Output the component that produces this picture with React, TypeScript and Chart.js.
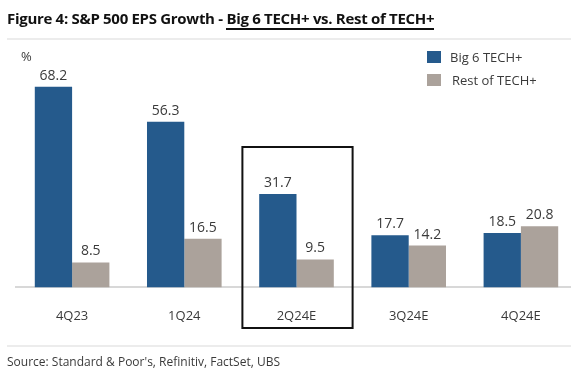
import React, { useEffect, useRef } from "react";
import { Chart, registerables } from "chart.js";

Chart.register(...registerables);

const categories = ["4Q23", "1Q24", "2Q24E", "3Q24E", "4Q24E"];
const big6Values = [68.2, 56.3, 31.7, 17.7, 18.5];
const restValues = [8.5, 16.5, 9.5, 14.2, 20.8];
const seriesNames = ["Big 6 TECH+", "Rest of TECH+"];
const seriesColors = ["#255a8c", "#aba29b"];
const highlightedCategory = "2Q24E";
const titleText = "Figure 4: S&P 500 EPS Growth - ";
const titleUnderlined = "Big 6 TECH+ vs. Rest of TECH+";
const unitLabel = "%";
const sourceText = "Source: Standard & Poor's, Refinitiv, FactSet, UBS";

const FONT = "'Open Sans', 'Noto Sans', sans-serif";
const TEXT = "#3a3a3a";

const valueLabels = {
  id: "valueLabels",
  afterDatasetsDraw(chart: any) {
    const ctx = chart.ctx;
    ctx.save();
    ctx.font = `14px ${FONT}`;
    ctx.fillStyle = TEXT;
    ctx.textAlign = "center";
    ctx.textBaseline = "bottom";
    chart.data.datasets.forEach((ds: any, i: number) => {
      const meta = chart.getDatasetMeta(i);
      meta.data.forEach((bar: any, j: number) => {
        ctx.fillText(ds.data[j].toFixed(1), bar.x, bar.y - 4);
      });
    });
    ctx.restore();
  },
};

const highlightBox = {
  id: "highlightBox",
  afterDraw(chart: any) {
    const x = chart.scales.x;
    const idx = categories.indexOf(highlightedCategory);
    const cx = x.getPixelForValue(idx);
    const half = (x.getPixelForValue(1) - x.getPixelForValue(0)) / 2;
    const ctx = chart.ctx;
    ctx.save();
    ctx.strokeStyle = "#111";
    ctx.lineWidth = 2;
    ctx.strokeRect(cx - half + 2, 147, 2 * half - 2, 181);
    ctx.restore();
  },
};

export default function App() {
  const ref = useRef<HTMLCanvasElement | null>(null);
  useEffect(() => {
    if (!ref.current) return;
    const chart = new Chart(ref.current, {
      type: "bar",
      data: {
        labels: categories,
        datasets: [
          {
            label: seriesNames[0],
            data: big6Values,
            backgroundColor: seriesColors[0],
            categoryPercentage: 0.665,
            barPercentage: 1.0,
          },
          {
            label: seriesNames[1],
            data: restValues,
            backgroundColor: seriesColors[1],
            categoryPercentage: 0.665,
            barPercentage: 1.0,
          },
        ],
      },
      options: {
        responsive: false,
        animation: false,
        devicePixelRatio: 1,
        layout: { padding: { left: 16, right: 23, top: 52, bottom: 37 } },
        plugins: {
          legend: { display: false },
          tooltip: { enabled: false },
          title: { display: false },
        },
        scales: {
          x: {
            grid: { display: false, drawTicks: false },
            border: { display: true, color: "#d8d8d8", width: 2 },
            ticks: {
              color: TEXT,
              font: { family: FONT, size: 13 },
              padding: 21,
            },
          },
          y: {
            display: false,
            min: 0,
            max: 80,
          },
        },
      },
      plugins: [valueLabels, highlightBox],
    });
    return () => chart.destroy();
  }, []);

  const abs = (s: React.CSSProperties): React.CSSProperties => ({ position: "absolute", ...s });

  return (
    <div
      style={{
        position: "fixed",
        left: 0,
        top: 0,
        width: 571,
        height: 382,
        overflow: "hidden",
        background: "#fff",
        fontFamily: FONT,
        color: TEXT,
      }}
    >
      <canvas ref={ref} width={600} height={382} style={abs({ left: 0, top: 0, width: 600, height: 382 })} />
      <div
        style={abs({
          left: 7,
          top: 8,
          fontSize: 15,
          fontWeight: 700,
          color: "#111",
          whiteSpace: "nowrap",
          letterSpacing: -0.3,
        })}
      >
        {titleText}
        <span style={{ borderBottom: "2px solid #111", paddingBottom: 0 }}>{titleUnderlined}</span>
      </div>
      <div style={abs({ left: 7, top: 38, width: 564, height: 2, background: "#ececec" })} />
      <div style={abs({ left: 21, top: 47, fontSize: 13 })}>{unitLabel}</div>
      {seriesNames.map((n, i) => (
        <div key={n} style={abs({ left: 427, top: 48 + i * 23, display: "flex", alignItems: "center", fontSize: 13, whiteSpace: "nowrap" })}>
          <span style={{ width: 14, height: 12, background: seriesColors[i], display: "inline-block", marginRight: 9 + i * 2 }} />
          <span>{n}</span>
        </div>
      ))}
      <div style={abs({ left: 7, top: 345, width: 564, height: 2, background: "#ececec" })} />
      <div style={abs({ left: 7, top: 353, fontSize: 12, whiteSpace: "nowrap" })}>{sourceText}</div>
    </div>
  );
}
